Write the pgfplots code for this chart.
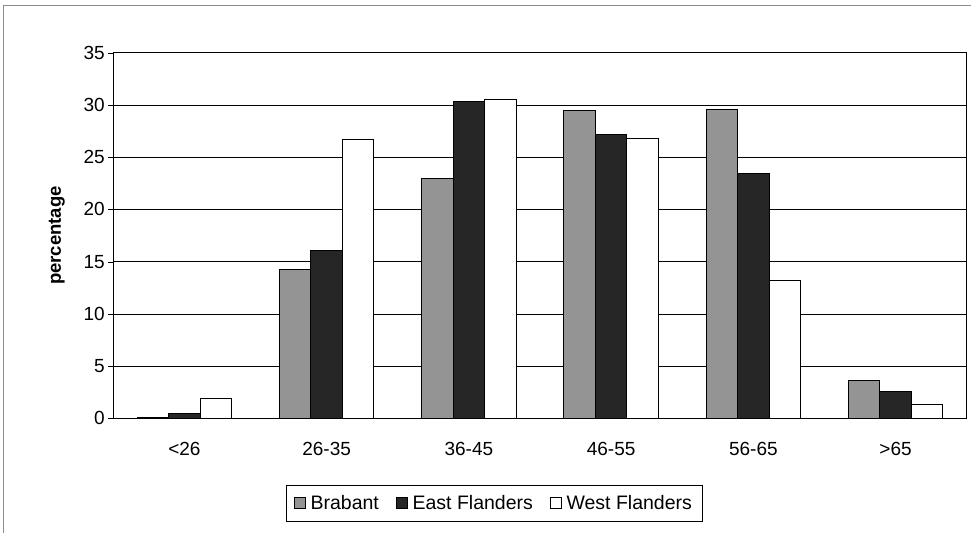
\documentclass[border=0pt]{standalone}
\usepackage{pgfplots}
\pgfplotsset{compat=1.18}
\usepackage{fontspec}
\setmainfont{Liberation Sans}
\begin{document}
\begin{tikzpicture}[x=1pt,y=1pt]
\path[use as bounding box] (0,0) rectangle (971,533);
\draw[black!45, line width=0.6pt] (3,0) -- (3,528) -- (971,528);
\begin{axis}[
  at={(113.3pt,114.7pt)}, anchor=south west,
  scale only axis, width=853.4pt, height=365.6pt,
  xmin=-0.5, xmax=5.5, ymin=0, ymax=35,
  ybar=0pt, bar width=31.5pt,
  xtick pos=bottom, ytick pos=left,
  xtick={0,1,2,3,4,5},
  xticklabels={{<26},{26-35},{36-45},{46-55},{56-65},{>65}},
  x tick style={draw=none},
  xticklabel style={yshift=-15pt},
  extra x ticks={-0.5,0.5,1.5,2.5,3.5,4.5,5.5},
  extra x tick labels={},
  extra x tick style={tick style={draw=black}, major tick length=6pt, tick align=center, grid=none},
  ytick={0,5,...,35},
  y tick style={draw=black}, major tick length=5pt, tick align=outside,
  ymajorgrids, grid style={black, line width=0.6pt},
  axis line style={black, line width=0.8pt},
  tick label style={font=\fontsize{19}{22}\selectfont},
  /pgf/number format/assume math mode=true,
  ylabel={\bfseries percentage},
  ylabel style={font=\fontsize{18.5}{22}\selectfont, yshift=12pt},
  legend columns=3,
  legend style={at={(0.446,-0.1824)}, anchor=north, draw=black, line width=0.6pt,
    font=\fontsize{19.5}{22}\selectfont, inner xsep=8pt, inner ysep=8pt,
    /tikz/every odd column/.append style={column sep=3pt},
    /tikz/every even column/.append style={column sep=15pt}},
  legend image code/.code={\draw[#1, line width=0.7pt] (0pt,-5pt) rectangle (11pt,6pt);},
  every axis plot/.append style={draw=black, line width=1pt},
]
\addplot[fill=black!42] coordinates {(0,0.1) (1,14.2) (2,23.0) (3,29.5) (4,29.6) (5,3.6)};
\addplot[fill=black!85] coordinates {(0,0.48) (1,16.1) (2,30.3) (3,27.2) (4,23.4) (5,2.55)};
\addplot[fill=white] coordinates {(0,1.9) (1,26.7) (2,30.5) (3,26.75) (4,13.2) (5,1.3)};
\legend{Brabant,East Flanders,West Flanders}
\end{axis}
\end{tikzpicture}
\end{document}
